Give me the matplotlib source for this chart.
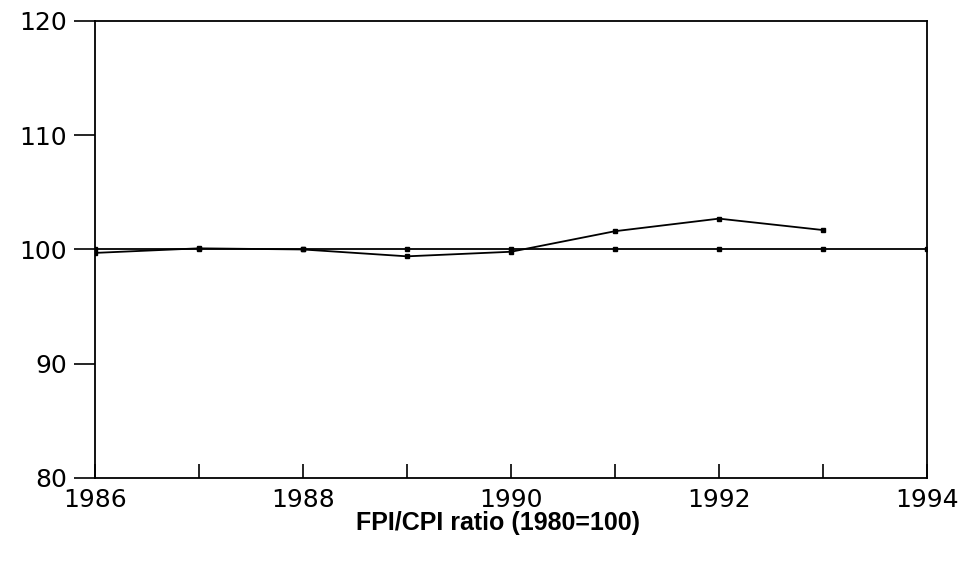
import matplotlib.pyplot as plt

# FPI/CPI ratio, 1980 = 100
years = [1986, 1987, 1988, 1989, 1990, 1991, 1992, 1993]
ratio = [99.7, 100.1, 100.0, 99.4, 99.8, 101.6, 102.7, 101.7]

# base line at 100
base_years = [1986, 1987, 1988, 1989, 1990, 1991, 1992, 1993, 1994]
base_vals = [100, 100, 100, 100, 100, 100, 100, 100, 100]

fig = plt.figure(figsize=(9.71, 5.61), dpi=100)
ax = fig.add_axes([0.0978, 0.148, 0.8569, 0.8146])

ax.plot(base_years, base_vals, color='black', lw=1.3, marker='s', ms=3.5)
ax.plot(years, ratio, color='black', lw=1.3, marker='s', ms=3.5)

ax.set_xlim(1986, 1994)
ax.set_ylim(80, 120)
ax.set_xticks([1986, 1988, 1990, 1992, 1994])
ax.set_xticks([1987, 1989, 1991, 1993], minor=True)
ax.set_yticks([80, 90, 100, 110, 120])

ax.tick_params(axis='x', which='both', direction='in', length=10, width=1.2,
               labelsize=18, pad=7)
ax.tick_params(axis='y', direction='out', length=15, width=1.2,
               labelsize=18, pad=5)
for s in ax.spines.values():
    s.set_linewidth(1.3)

fig.text(0.513, 0.068, 'FPI/CPI ratio (1980=100)', ha='center', va='center',
         fontsize=18, fontweight='bold', family='Liberation Sans')

fig.savefig('out.png', dpi=100)
